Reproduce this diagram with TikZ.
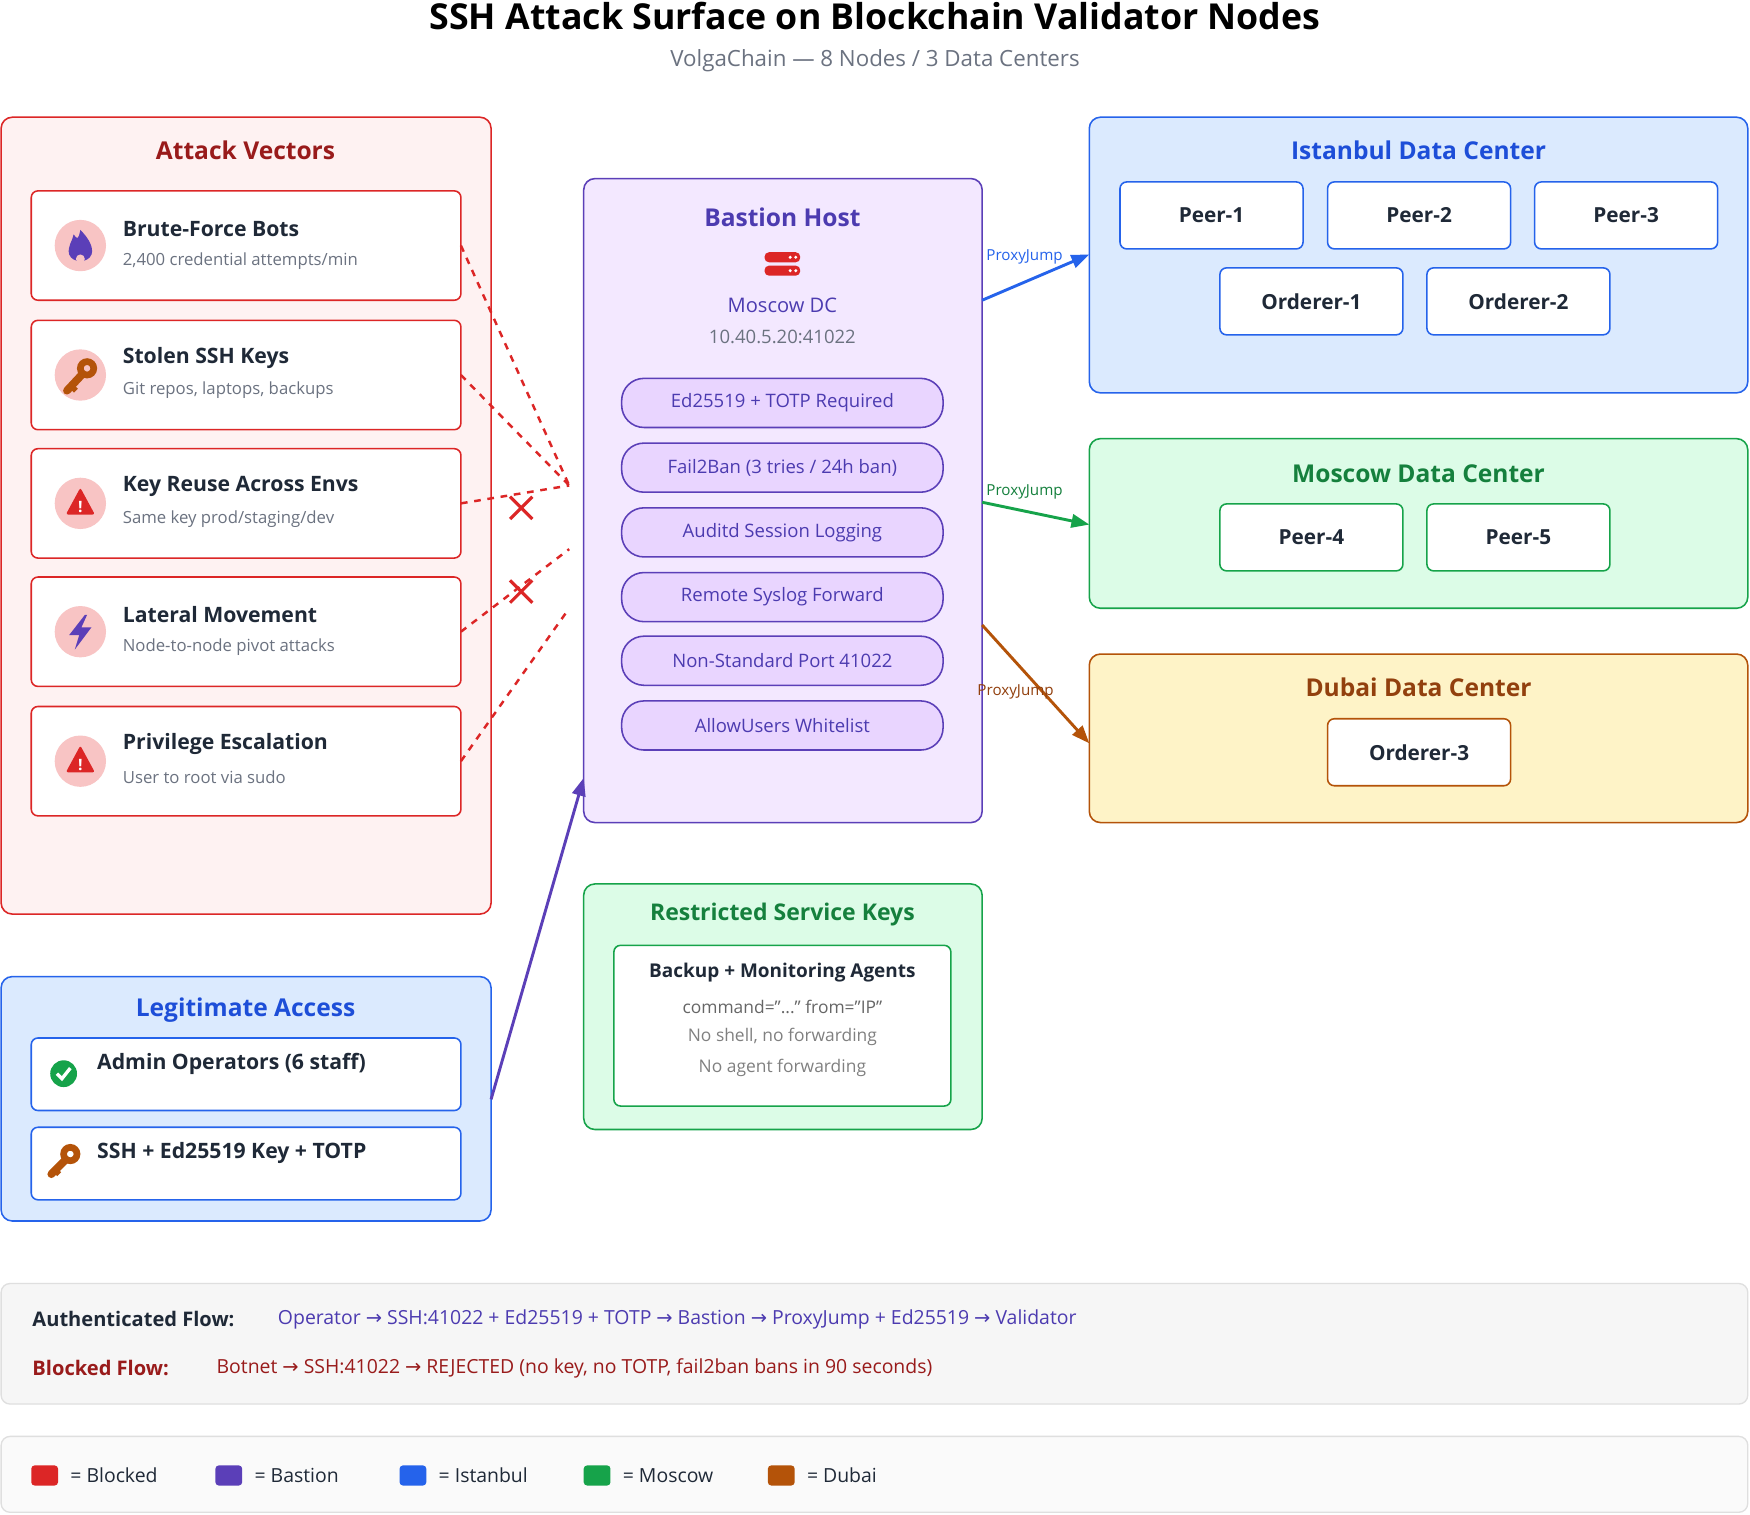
\documentclass[tikz,border=0pt]{standalone}
\usepackage{fontspec}
\setmainfont{Open Sans}
\newfontfamily\dv{DejaVu Sans}
\usetikzlibrary{arrows.meta}
\definecolor{rd}{HTML}{DC2626}\definecolor{drd}{HTML}{991B1B}
\definecolor{pu}{HTML}{5B3FB8}\definecolor{dpu}{HTML}{4C3BB0}
\definecolor{bl}{HTML}{2563EB}\definecolor{dbl}{HTML}{1D4ED8}
\definecolor{gr}{HTML}{16A34A}\definecolor{dgr}{HTML}{15803D}
\definecolor{or}{HTML}{B45309}\definecolor{dor}{HTML}{92400E}
\definecolor{txt}{HTML}{1F2937}\definecolor{gy}{HTML}{6B7280}
\definecolor{fr}{HTML}{FEF2F2}\definecolor{fp}{HTML}{F3E8FF}\definecolor{fpill}{HTML}{E9D5FF}
\definecolor{fb}{HTML}{DBEAFE}\definecolor{fg}{HTML}{DCFCE7}\definecolor{fy}{HTML}{FEF3C7}
\definecolor{ic}{HTML}{F8C4C4}
\tikzset{
 panel/.style={draw=#1,rounded corners=5pt,line width=0.7pt},
 card/.style={draw=#1,fill=white,rounded corners=3pt,line width=0.7pt},
 ptitle/.style={font=\fontsize{11}{13}\selectfont\bfseries},
 ctitle/.style={font=\fontsize{9.5}{11}\selectfont\bfseries,text=txt,anchor=west},
 csub/.style={font=\fontsize{7.5}{9}\selectfont,text=gy,anchor=west},
 pill/.style={draw=pu,fill=fpill,rounded corners=10pt,line width=0.7pt,minimum width=144pt,minimum height=22pt,text=dpu,font=\fontsize{8.3}{10}\selectfont},
 box/.style={draw=#1,fill=white,rounded corners=3pt,line width=0.7pt,minimum width=82pt,minimum height=30pt,font=\fontsize{9.3}{11}\selectfont\bfseries,text=txt},
 lbl/.style={font=\fontsize{6.8}{8}\selectfont},
 atk/.style={rd,dashed,line width=1.1pt},
}
\begin{document}
\begin{tikzpicture}[x=0.5pt,y=-0.5pt]
\useasboundingbox[fill=white] (0,0) rectangle (1568,1357);
\node[font=\fontsize{16}{19}\selectfont\bfseries,text=black] (title) at (784,14) {SSH Attack Surface on Blockchain Validator Nodes};
\node[font=\fontsize{10}{12}\selectfont,text=gy] (sub) at (784,54) {VolgaChain — 8 Nodes / 3 Data Centers};
% Attack vectors
\draw[panel=rd,fill=fr] (1,105) rectangle (440,819);
\node[ptitle,text=drd] (avt) at (220,135) {Attack Vectors};
\foreach \i/\y/\t/\s in {1/171/Brute-Force Bots/{2,400 credential attempts/min},2/287/Stolen SSH Keys/{Git repos, laptops, backups},3/402/Key Reuse Across Envs/{Same key prod/staging/dev},4/517/Lateral Movement/{Node-to-node pivot attacks},5/633/Privilege Escalation/{User to root via sudo}}{
 \draw[card=rd] (28,\y) rectangle (413,\y+98);
 \coordinate (c\i) at (413,\y+49);
 \fill[ic] (72,\y+49) circle (23);
 \node[ctitle] at (103,\y+34) {\t};
 \node[csub] at (103,\y+63) {\s};
}
% icons
\fill[pu] (72,206) .. controls (80,214) and (84,222) .. (82,228) .. controls (79,236) and (65,236) .. (62,228) .. controls (60,221) and (65,216) .. (66,210) .. controls (69,214) and (70,216) .. (72,206) -- cycle;
\fill[ic] (72,232) circle (4);
\draw[or,line width=3pt] (78,330) circle (6);
\draw[or,line width=3.5pt,line cap=round] (74,335) -- (60,350);
\draw[or,line width=2.5pt] (64,346) -- (68,350);
\foreach \yy in {451,682}{
 \fill[rd,rounded corners=1pt] (72,\yy-14) -- (85,\yy+10) -- (59,\yy+10) -- cycle;
 \node[text=white,font=\fontsize{7}{8}\selectfont\bfseries] at (72,\yy+3) {!};}
\fill[pu] (76,551) -- (62,569) -- (71,569) -- (67,582) -- (82,562) -- (73,562) -- (78,551) -- cycle;
% attack lines
\coordinate (h1) at (510,435);\coordinate (h2) at (510,492);\coordinate (h3) at (510,545);
\draw[atk] (c1) -- (h1); \draw[atk] (c2) -- (h1); \draw[atk] (c3) -- (h1);
\draw[atk] (c4) -- (h2); \draw[atk] (c5) -- (h3);
\foreach \x/\y in {467/455,467/530}{\draw[rd,line width=1.4pt] (\x-10,\y-10) -- (\x+10,\y+10) (\x-10,\y+10) -- (\x+10,\y-10);}
% Bastion
\draw[panel=pu,fill=fp] (523,160) rectangle (880,737);
\node[ptitle,text=dpu] at (701,195) {Bastion Host};
\fill[rd,rounded corners=2pt] (685,226) rectangle (717,235);
\fill[rd,rounded corners=2pt] (685,238) rectangle (717,247);
\fill[white] (708,230.5) circle (1.5) (713,230.5) circle (1.5) (708,242.5) circle (1.5) (713,242.5) circle (1.5);
\node[text=dpu,font=\fontsize{9}{11}\selectfont] at (701,274) {Moscow DC};
\node[text=gy,font=\fontsize{8.3}{10}\selectfont] at (701,302) {10.40.5.20:41022};
\foreach \y/\t [count=\k] in {361/{Ed25519 + TOTP Required},419/{Fail2Ban (3 tries / 24h ban)},477/{Auditd Session Logging},535/{Remote Syslog Forward},592/{Non-Standard Port 41022},650/{AllowUsers Whitelist}}
 \node[pill] (p\k) at (701,\y) {\t};
% Istanbul
\draw[panel=bl,fill=fb] (976,105) rectangle (1566,352);
\node[ptitle,text=dbl] at (1271,135) {Istanbul Data Center};
\node[box=bl] (pe1) at (1085.5,193) {Peer-1};
\node[box=bl] (pe2) at (1271.5,193) {Peer-2};
\node[box=bl] (pe3) at (1457,193) {Peer-3};
\node[box=bl] (or1) at (1175,270) {Orderer-1};
\node[box=bl] (or2) at (1360.5,270) {Orderer-2};
% Moscow
\draw[panel=gr,fill=fg] (976,393) rectangle (1566,545);
\node[ptitle,text=dgr] at (1271,424) {Moscow Data Center};
\node[box=gr] (pe4) at (1175,481.5) {Peer-4};
\node[box=gr] (pe5) at (1360.5,481.5) {Peer-5};
% Dubai
\draw[panel=or,fill=fy] (976,586) rectangle (1566,737);
\node[ptitle,text=dor] at (1271,616) {Dubai Data Center};
\node[box=or] (or3) at (1271.5,674) {Orderer-3};
% proxyjump arrows
\coordinate (b1) at (880,269);\coordinate (i1) at (976,228);
\coordinate (b2) at (880,450);\coordinate (m1) at (976,470);
\coordinate (b3) at (880,560);\coordinate (d1) at (976,666);
\draw[bl,line width=1.3pt,-{Triangle[length=8pt,width=6pt]}] (b1) -- (i1);
\draw[gr,line width=1.3pt,-{Triangle[length=8pt,width=6pt]}] (b2) -- (m1);
\draw[or,line width=1.3pt,-{Triangle[length=8pt,width=6pt]}] (b3) -- (d1);
\node[lbl,text=bl] at (918,230) {ProxyJump};
\node[lbl,text=dgr] at (918,441) {ProxyJump};
\node[lbl,text=dor] at (910,620) {ProxyJump};
% Restricted keys
\draw[panel=gr,fill=fg] (523,792) rectangle (880,1012);
\node[ptitle,text=dgr,font=\fontsize{10.3}{12}\selectfont\bfseries] at (701,819) {Restricted Service Keys};
\draw[card=gr] (550,847) rectangle (852,991);
\node[font=\fontsize{8.5}{10}\selectfont\bfseries,text=txt] at (701,871) {Backup + Monitoring Agents};
\node[font=\fontsize{7.8}{10}\selectfont,text=gray!120] at (701,902) {command="..." from="IP"};
\node[font=\fontsize{7.8}{10}\selectfont,text=gray] at (701,929) {No shell, no forwarding};
\node[font=\fontsize{7.8}{10}\selectfont,text=gray] at (701,957) {No agent forwarding};
% Legitimate
\draw[panel=bl,fill=fb] (1,875) rectangle (440,1094);
\node[ptitle,text=dbl] at (220,905) {Legitimate Access};
\draw[card=bl] (28,930) rectangle (413,995);
\draw[card=bl] (28,1010) rectangle (413,1075);
\fill[gr] (57,962) circle (12);
\draw[white,line width=1.5pt] (51,962) -- (55.5,966.5) -- (63,957);
\node[ctitle] at (80,953) {Admin Operators (6 staff)};
\draw[or,line width=3pt] (63,1034) circle (6);
\draw[or,line width=3.5pt,line cap=round] (59,1039) -- (46,1052);
\draw[or,line width=2.5pt] (49,1048) -- (53,1052);
\node[ctitle] at (80,1033) {SSH + Ed25519 Key + TOTP};
\coordinate (la) at (440,985);\coordinate (ba) at (523,697);
\draw[pu,line width=1.3pt,-{Triangle[length=8pt,width=6pt]}] (la) -- (ba);
% Flows
\draw[draw=gray!25,fill=blue!2!gray!7,rounded corners=4pt,line width=0.6pt] (1,1150) rectangle (1566,1258);
\node[ctitle,font=\fontsize{9}{11}\selectfont\bfseries] at (22,1182) {Authenticated Flow:};
\node[anchor=west,text=dpu,font=\fontsize{8.7}{11}\selectfont] at (242,1182) {Operator {\dv→} SSH:41022 + Ed25519 + TOTP {\dv→} Bastion {\dv→} ProxyJump + Ed25519 {\dv→} Validator};
\node[ctitle,text=drd,font=\fontsize{9}{11}\selectfont\bfseries] at (22,1226) {Blocked Flow:};
\node[anchor=west,text=drd,font=\fontsize{8.7}{11}\selectfont] at (187,1226) {Botnet {\dv→} SSH:41022 {\dv→} REJECTED (no key, no TOTP, fail2ban bans in 90 seconds)};
% Legend
\draw[draw=gray!25,fill=gray!4,rounded corners=4pt,line width=0.6pt] (1,1287) rectangle (1566,1355);
\foreach \x/\c/\t in {28/rd/Blocked,193/pu/Bastion,358/bl/Istanbul,523/gr/Moscow,688/or/Dubai}{
 \fill[\c,rounded corners=1.5pt] (\x,1313) rectangle (\x+24,1331);
 \node[anchor=west,text=txt,font=\fontsize{8.7}{11}\selectfont] at (\x+28,1322) {= \t};}
\end{tikzpicture}
\end{document}
